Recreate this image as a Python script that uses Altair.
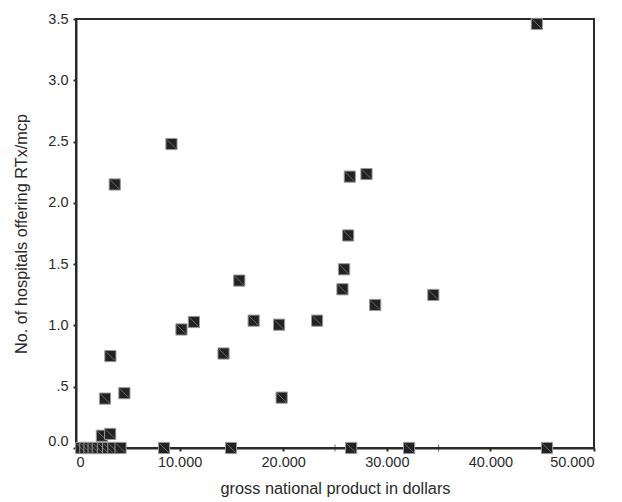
import altair as alt
import pandas as pd

# Data
gnp = [44480, 45460, 9215, 3740, 15760, 10180, 11380, 17150, 14240, 3320, 2800, 4670,
       26430, 28040, 26270, 25880, 25720, 34490, 28880, 19600, 23270, 19850,
       2500, 3300,
       500, 900, 1300, 1700, 2100, 2600, 3100, 3600, 4300, 8500, 14960, 26560, 32150]
hosp = [3.46, 0.0, 2.48, 2.15, 1.366, 0.967, 1.028, 1.039, 0.771, 0.750, 0.403, 0.447,
        2.214, 2.235, 1.734, 1.458, 1.295, 1.249, 1.167, 1.006, 1.039, 0.411,
        0.10, 0.115,
        0, 0, 0, 0, 0, 0, 0, 0, 0, 0, 0, 0, 0]
minor_ticks = [15000, 25000, 35000]

df = pd.DataFrame({"gnp": gnp, "hosp": hosp})
minor = pd.DataFrame({"m": minor_ticks, "z": [0] * len(minor_ticks)})

FONT = "Liberation Sans"
INK = "#2a2a2a"

x_enc = alt.X("gnp:Q", scale=alt.Scale(domain=[0, 50000], nice=False),
              axis=alt.Axis(values=[0, 10000, 20000, 30000, 40000, 50000],
                            labelExpr="replace(format(datum.value, ',d'), ',', '.')",
                            title="gross national product in dollars",
                            grid=False, domainColor=INK, domainWidth=2,
                            tickColor=INK, tickSize=3, tickWidth=2, zindex=0,
                            labelFont=FONT, labelFontSize=14.5, labelColor=INK,
                            labelPadding=4,
                            titleFont=FONT, titleFontSize=16.3, titleFontWeight="normal",
                            titleColor=INK, titlePadding=12))
y_enc = alt.Y("hosp:Q", scale=alt.Scale(domain=[0, 3.5], nice=False),
              axis=alt.Axis(values=[0, 0.5, 1.0, 1.5, 2.0, 2.5, 3.0, 3.5],
                            labelExpr="datum.value == 0.5 ? '.5' : format(datum.value, '.1f')",
                            labelBaseline={"condition": {"test": "datum.value == 0", "value": "bottom"},
                                           "value": "middle"},
                            title="No. of hospitals offering RTx/mcp",
                            grid=False, domainColor=INK, domainWidth=2,
                            tickColor=INK, tickSize=3, tickWidth=2, zindex=0,
                            labelFont=FONT, labelFontSize=14.5, labelColor=INK,
                            labelPadding=5,
                            titleFont=FONT, titleFontSize=16.3, titleFontWeight="normal",
                            titleColor=INK, titlePadding=18))

points = alt.Chart(df).mark_point(shape="square", filled=True, size=125, opacity=1,
                                   fill="#222", stroke="#9a9a9a", strokeWidth=1).encode(
    x=x_enc, y=y_enc)

diag = alt.Chart(df).mark_point(shape="M -0.8 -0.8 L 0.8 0.8", filled=False, size=125,
                                 opacity=1, stroke="#8a8a8a", strokeWidth=0.7).encode(
    x="gnp:Q", y="hosp:Q")

mt = alt.Chart(minor).mark_tick(orient="vertical", size=7, thickness=1, color=INK).encode(
    x="m:Q", y="z:Q")

chart = alt.layer(mt, points, diag).properties(
    width=518, height=429,
    background="white",
    padding={"left": 76, "top": 19, "right": 28, "bottom": 54},
    autosize=alt.AutoSizeParams(type="none"),
).configure_view(stroke=INK, strokeWidth=2)

chart.save("out.html", embed_options={"renderer": "svg", "actions": False})
